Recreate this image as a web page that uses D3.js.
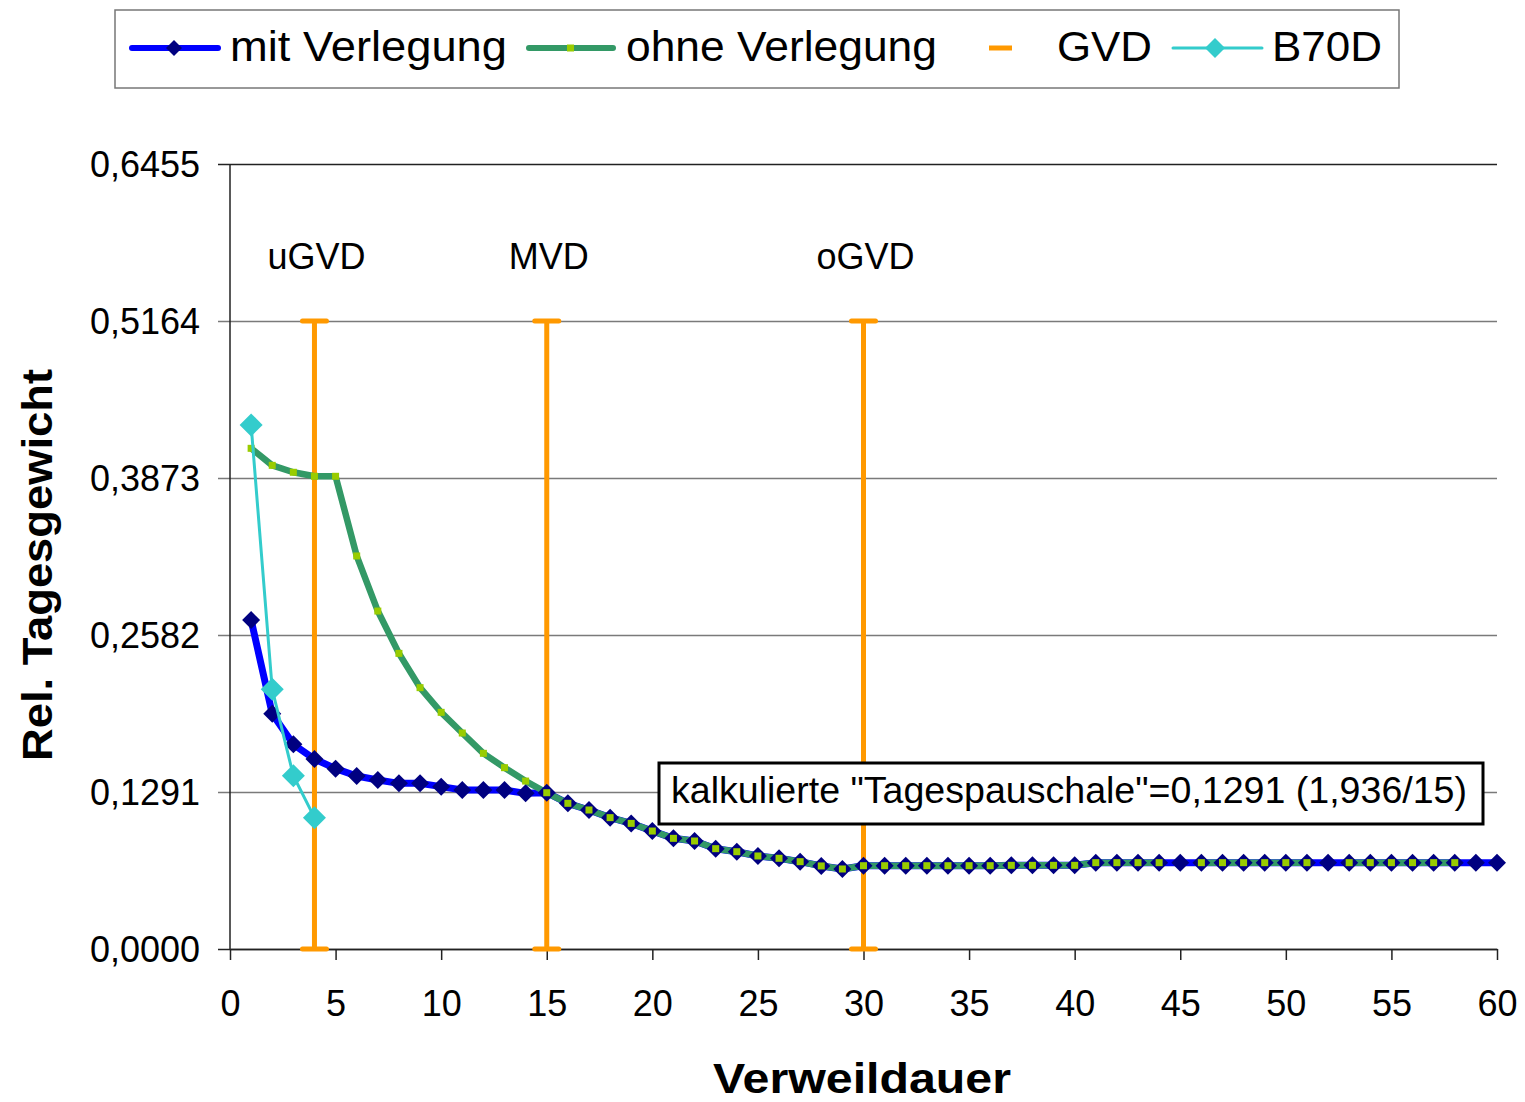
<!DOCTYPE html>
<html>
<head>
<meta charset="utf-8">
<script src="https://cdn.jsdelivr.net/npm/d3@7"></script>
<style>
  html, body { margin: 0; padding: 0; background: #fff; }
  svg text { font-family: "Liberation Sans", Arial, sans-serif; fill: #000; }
</style>
</head>
<body>
<svg id="chart" width="1525" height="1102"></svg>
<script>
// Verweildauer (days) 1..60
const days = d3.range(1, 61);

// Relatives Tagesgewicht – mit Verlegung
const mitVerlegung = [
  0.2705, 0.1935, 0.1683, 0.1562, 0.1483, 0.1423, 0.1390, 0.1362, 0.1362, 0.1335,
  0.1307, 0.1307, 0.1307, 0.1280, 0.1285, 0.1198, 0.1143, 0.1080, 0.1033, 0.0970,
  0.0910, 0.0888, 0.0825, 0.0800, 0.0765, 0.0746, 0.0718, 0.0683, 0.0658, 0.0685,
  0.0685, 0.0685, 0.0685, 0.0685, 0.0685, 0.0685, 0.0688, 0.0688, 0.0688, 0.0688,
  0.0710, 0.0710, 0.0710, 0.0710, 0.0710, 0.0710, 0.0710, 0.0710, 0.0710, 0.0710,
  0.0710, 0.0710, 0.0710, 0.0710, 0.0710, 0.0710, 0.0710, 0.0710, 0.0710, 0.0710
];

// Relatives Tagesgewicht – ohne Verlegung (null = no value)
const ohneVerlegung = [
  0.4117, 0.3977, 0.3920, 0.3887, 0.3887, 0.3232, 0.2779, 0.2431, 0.2149, 0.1946,
  0.1776, 0.1609, 0.1491, 0.1381, 0.1285, 0.1198, 0.1143, 0.1080, 0.1033, 0.0970,
  0.0910, 0.0888, 0.0825, 0.0800, 0.0765, 0.0746, 0.0718, 0.0683, 0.0658, 0.0685,
  0.0685, 0.0685, 0.0685, 0.0685, 0.0685, 0.0685, 0.0688, 0.0688, 0.0688, 0.0688,
  0.0710, 0.0710, 0.0710, 0.0710, null,   0.0710, 0.0710, 0.0710, 0.0710, 0.0710,
  0.0710, null,   0.0710, 0.0710, 0.0710, 0.0710, 0.0710, 0.0710, null,   null
];

// B70D, days 1..4
const b70dDays = [1, 2, 3, 4];
const b70d = [0.4309, 0.2135, 0.1425, 0.1080];

// Grenzverweildauern
const gvdDays = [4, 15, 30];
const gvdLabels = ["uGVD", "MVD", "oGVD"];
const gvdValue = 0.5164;

// Axis ticks
const yTicks = [0, 0.1291, 0.2582, 0.3873, 0.5164, 0.6455];
const xTicks = d3.range(0, 61, 5);

const legendLabels = ["mit Verlegung", "ohne Verlegung", "GVD", "B70D"];
const noteText = 'kalkulierte "Tagespauschale"=0,1291 (1,936/15)';
const xTitle = "Verweildauer";
const yTitle = "Rel. Tagesgewicht";

const C = {
  blue: "#0000ff", navy: "#000080",
  green: "#339966", lime: "#99cc00",
  orange: "#ff9900", cyan: "#33cccc",
  grid: "#7a7a7a"
};

const svg = d3.select("#chart");
const x = d3.scaleLinear().domain([0, 60]).range([230, 1497]);
const y = d3.scaleLinear().domain([0, 0.6455]).range([949, 164]);
const fmt = v => d3.format(".4f")(v).replace(".", ",");

// Horizontal gridlines with tick stubs to the left
const yAxis = d3.axisLeft(y).tickValues(yTicks).tickFormat(fmt)
  .tickSizeInner(-(1497 - 218)).tickSizeOuter(0).tickPadding(0);
const gy = svg.append("g").attr("transform", "translate(218,0)").call(yAxis);
gy.select(".domain").remove();
gy.selectAll(".tick line").attr("x1", 0).attr("x2", 1497 - 218)
  .attr("stroke", C.grid).attr("stroke-width", 1.5);
gy.selectAll(".tick text").attr("x", -18).attr("dy", "0.36em")
  .style("font-size", "36px").attr("fill", "#000");
gy.selectAll(".tick").filter(d => d === 0.6455 || d === 0).select("line").attr("stroke", "#222");

// Vertical axis line
svg.append("line").attr("x1", 230).attr("x2", 230).attr("y1", y(0.6455)).attr("y2", y(0))
  .attr("stroke", "#222").attr("stroke-width", 1.5);

// X axis
const xAxis = d3.axisBottom(x).tickValues(xTicks).tickSizeInner(11).tickSizeOuter(0).tickPadding(30);
const gx = svg.append("g").attr("transform", `translate(0,${y(0)})`).call(xAxis);
gx.select(".domain").attr("stroke", "#222").attr("stroke-width", 1.5);
gx.selectAll(".tick line").attr("stroke", "#222").attr("stroke-width", 1.5);
gx.selectAll(".tick text").style("font-size", "36px").attr("fill", "#000");

// GVD bars with end caps
const gvd = svg.append("g");
gvdDays.forEach((d, i) => {
  gvd.append("line").attr("x1", x(d)).attr("x2", x(d)).attr("y1", y(0)).attr("y2", y(gvdValue))
    .attr("stroke", C.orange).attr("stroke-width", 5);
  [0, gvdValue].forEach(v => {
    gvd.append("line").attr("x1", x(d) - 12).attr("x2", x(d) + 12).attr("y1", y(v)).attr("y2", y(v))
      .attr("stroke", C.orange).attr("stroke-width", 5).attr("stroke-linecap", "round");
  });
  svg.append("text").attr("x", x(d) + 2).attr("y", 269).attr("text-anchor", "middle")
    .style("font-size", "36px").text(gvdLabels[i]);
});

// Series
const mitData = days.map((d, i) => ({ d, v: mitVerlegung[i] }));
const ohneData = days.map((d, i) => ({ d, v: ohneVerlegung[i] }));
const b70Data = b70dDays.map((d, i) => ({ d, v: b70d[i] }));

const line = d3.line().defined(p => p.v != null).x(p => x(p.d)).y(p => y(p.v));

svg.append("path").datum(mitData).attr("d", line).attr("fill", "none")
  .attr("stroke", C.blue).attr("stroke-width", 7).attr("stroke-linejoin", "round");
svg.append("path").datum(ohneData).attr("d", line).attr("fill", "none")
  .attr("stroke", C.green).attr("stroke-width", 6.5).attr("stroke-linejoin", "round");

const diamond = s => `M0,${-s}L${s},0L0,${s}L${-s},0Z`;

svg.append("g").selectAll("path").data(mitData).join("path")
  .attr("transform", p => `translate(${x(p.d)},${y(p.v)})`)
  .attr("d", diamond(9)).attr("fill", C.navy);
svg.append("g").selectAll("rect").data(ohneData.filter(p => p.v != null)).join("rect")
  .attr("x", p => x(p.d) - 3.5).attr("y", p => y(p.v) - 3.5)
  .attr("width", 7).attr("height", 7).attr("fill", C.lime);

svg.append("path").datum(b70Data).attr("d", line).attr("fill", "none")
  .attr("stroke", C.cyan).attr("stroke-width", 3);
svg.append("g").selectAll("path").data(b70Data).join("path")
  .attr("transform", p => `translate(${x(p.d)},${y(p.v)})`)
  .attr("d", diamond(11.5)).attr("fill", C.cyan);

// Annotation box
svg.append("rect").attr("x", 659).attr("y", 763).attr("width", 824).attr("height", 61)
  .attr("fill", "#fff").attr("stroke", "#000").attr("stroke-width", 3);
svg.append("text").attr("x", 671).attr("y", 803).style("font-size", "36px")
  .attr("textLength", 796).attr("lengthAdjust", "spacingAndGlyphs").text(noteText);

// Axis titles
svg.append("text").attr("x", 862).attr("y", 1093).attr("text-anchor", "middle")
  .style("font-size", "42px").style("font-weight", "bold")
  .attr("textLength", 298).attr("lengthAdjust", "spacingAndGlyphs").text(xTitle);
svg.append("text").attr("transform", "translate(52,565) rotate(-90)").attr("text-anchor", "middle")
  .style("font-size", "42px").style("font-weight", "bold")
  .attr("textLength", 392).attr("lengthAdjust", "spacingAndGlyphs").text(yTitle);

// Legend
const lg = svg.append("g");
lg.append("rect").attr("x", 115).attr("y", 10).attr("width", 1284).attr("height", 78)
  .attr("fill", "#fff").attr("stroke", "#777").attr("stroke-width", 1.5);
const ly = 48;
// mit Verlegung
lg.append("line").attr("x1", 132).attr("x2", 218).attr("y1", ly).attr("y2", ly)
  .attr("stroke", C.blue).attr("stroke-width", 6).attr("stroke-linecap", "round");
lg.append("path").attr("transform", `translate(174,${ly})`).attr("d", diamond(8)).attr("fill", C.navy);
// ohne Verlegung
lg.append("line").attr("x1", 529).attr("x2", 613).attr("y1", ly).attr("y2", ly)
  .attr("stroke", C.green).attr("stroke-width", 6).attr("stroke-linecap", "round");
lg.append("rect").attr("x", 567).attr("y", ly - 3.5).attr("width", 7).attr("height", 7).attr("fill", C.lime);
// GVD
lg.append("line").attr("x1", 989).attr("x2", 1012).attr("y1", ly).attr("y2", ly)
  .attr("stroke", C.orange).attr("stroke-width", 5);
// B70D
lg.append("line").attr("x1", 1173).attr("x2", 1262).attr("y1", ly).attr("y2", ly)
  .attr("stroke", C.cyan).attr("stroke-width", 3).attr("stroke-linecap", "round");
lg.append("path").attr("transform", `translate(1215,${ly})`).attr("d", diamond(10)).attr("fill", C.cyan);

const legendX = [230, 626, 1057, 1272];
const legendW = [277, 311, 95, 110];
legendLabels.forEach((t, i) => {
  lg.append("text").attr("x", legendX[i]).attr("y", 61).style("font-size", "42px")
    .attr("textLength", legendW[i]).attr("lengthAdjust", "spacingAndGlyphs").text(t);
});
</script>
</body>
</html>
